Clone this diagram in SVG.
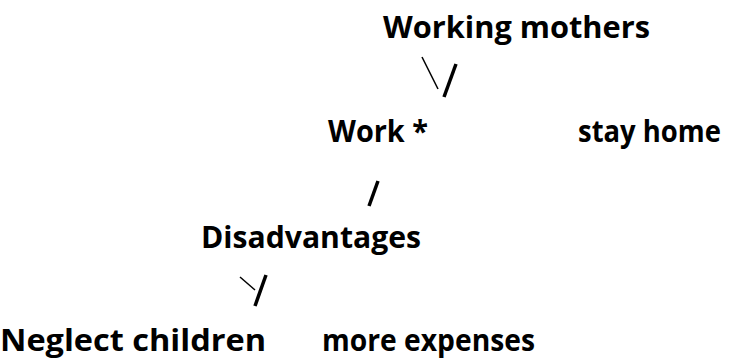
<svg xmlns="http://www.w3.org/2000/svg" width="741" height="360" viewBox="0 0 741 360">
<style>
.t{font-family:"Open Sans","Noto Sans","Liberation Sans",sans-serif;font-weight:bold;font-size:30px;fill:#000}
.thin{stroke:#000;stroke-width:1.5;fill:none}
.thick{stroke:#000;stroke-width:3.5;fill:none}
</style>
<rect width="741" height="360" fill="#fff"/>
<g id="node-working-mothers"><text class="t" x="383" y="38" textLength="267" lengthAdjust="spacingAndGlyphs">Working mothers</text></g>
<g id="node-work"><text class="t" x="328" y="142" textLength="100" lengthAdjust="spacingAndGlyphs">Work *</text></g>
<g id="node-stay-home"><text class="t" x="578" y="142" textLength="143" lengthAdjust="spacingAndGlyphs">stay home</text></g>
<g id="node-disadvantages"><text class="t" x="201" y="248" textLength="220" lengthAdjust="spacingAndGlyphs">Disadvantages</text></g>
<g id="node-neglect-children"><text class="t" x="0" y="351" textLength="266" lengthAdjust="spacingAndGlyphs">Neglect children</text></g>
<g id="node-more-expenses"><text class="t" x="322" y="351" textLength="213" lengthAdjust="spacingAndGlyphs">more expenses</text></g>
<g id="connectors">
<line class="thin" x1="422" y1="57" x2="438" y2="89"/>
<line class="thick" x1="456" y1="64" x2="444" y2="97"/>
<line class="thick" x1="378" y1="181" x2="369" y2="206"/>
<line class="thin" x1="240" y1="277" x2="255" y2="290"/>
<line class="thick" x1="266" y1="275" x2="255" y2="306"/>
</g>
</svg>
